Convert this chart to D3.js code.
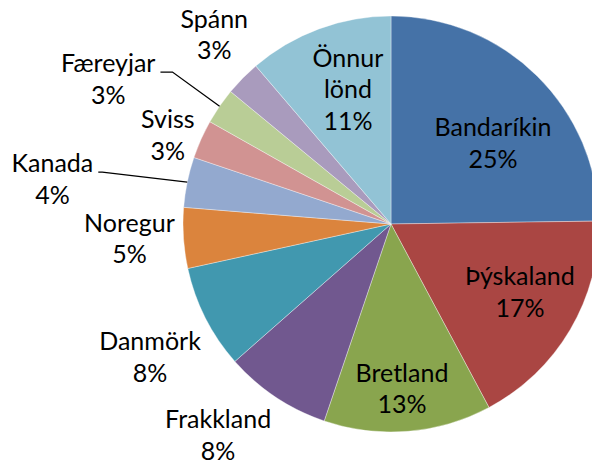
<!DOCTYPE html>
<html>
<head>
<meta charset="utf-8">
<script src="https://cdn.jsdelivr.net/npm/d3@7"></script>
<style>
  html, body { margin: 0; padding: 0; background: #fff; }
  #root { width: 592px; height: 463px; overflow: hidden; }
  text { font-family: Lato, "Open Sans", sans-serif; fill: #000; }
</style>
</head>
<body>
<div id="root"></div>
<script>
// data, clockwise from 12 o'clock
const countries = ['Bandaríkin', 'Þýskaland', 'Bretland', 'Frakkland', 'Danmörk', 'Noregur',
                   'Kanada', 'Sviss', 'Færeyjar', 'Spánn', 'Önnur lönd'];
const shares = [24.75, 17.4, 13.0, 8.3, 8.05, 4.7, 3.9, 3.0, 2.8, 2.75, 11.25];

const colors = ['#4572A7', '#AA4643', '#89A54E', '#71588F', '#4198AF', '#DB843D',
                '#93A9CF', '#D19392', '#B9CD96', '#A99BBD', '#92C3D5'];

// where Excel left each label: [angle in degrees clockwise from top, distance from centre]
const labelPolar = [[51.7, 130], [118, 146], [176.2, 165.6], [219.3, 273], [241, 275.5],
                    [266.7, 262], [277.5, 341.5], [291.6, 240], [297.1, 317.6], [316.9, 258.7],
                    [342.2, 141]];
// labels that get a leader line, and the length of its flat bit
const leaders = { 'Kanada': 4, 'Færeyjar': 12 };
// label split over lines
const labelLines = { 'Önnur lönd': ['Önnur', 'lönd'] };

const root = document.getElementById('root');
const width = 592;
const height = 463;
const cx = 391;
const cy = 224;
const radius = 208;
const fontSize = 25;
const lineH = 31.5;

const svg = d3.select(root)
    .append('svg')
    .attr('width', width)
    .attr('height', height);

const total = d3.sum(shares);
const dataset = countries.map((c, i) => ({ name: c, value: shares[i], i: i }));

const pie = d3.pie()
    .value(d => d.value)
    .sort(null)
    .startAngle(0)
    .endAngle(2 * Math.PI);

const arc = d3.arc()
    .innerRadius(0)
    .outerRadius(radius);

const g = svg.append('g')
    .attr('transform', `translate(${cx},${cy})`);

const arcs = pie(dataset);

g.selectAll('path.slice')
    .data(arcs)
    .enter()
    .append('path')
    .attr('class', 'slice')
    .attr('d', arc)
    .attr('fill', d => colors[d.data.i])
    .attr('stroke', '#fff')
    .attr('stroke-width', 0.6)
    .attr('stroke-opacity', 0.6);

const polar = (deg, r) => {
    const a = deg * Math.PI / 180;
    return [r * Math.sin(a), -r * Math.cos(a)];
};

// Labels
arcs.forEach(d => {
    const name = d.data.name;
    const pct = Math.round(d.data.value / total * 100) + '%';
    const lines = (labelLines[name] || [name]).concat([pct]);
    const [lx, ly] = polar(labelPolar[d.data.i][0], labelPolar[d.data.i][1]);
    const n = lines.length;

    const t = g.append('text')
        .attr('text-anchor', 'middle')
        .attr('font-size', fontSize + 'px');
    lines.forEach((s, k) => {
        t.append('tspan')
            .attr('x', lx)
            .attr('y', ly - (n - 1) * lineH / 2 + 8.5 + k * lineH)
            .text(s);
    });

    if (leaders[name] !== undefined) {
        const first = t.select('tspan').node();
        const right = lx + first.getComputedTextLength() / 2 + 5;
        const yLine = ly - (n - 1) * lineH / 2 + 8.5;
        const mid = (d.startAngle + d.endAngle) / 2 * 180 / Math.PI;
        const [ex, ey] = polar(mid, radius);
        g.append('polyline')
            .attr('points', [[right, yLine], [right + leaders[name], yLine], [ex, ey]].join(' '))
            .attr('fill', 'none')
            .attr('stroke', '#000')
            .attr('stroke-width', 1.3);
    }
});
</script>
</body>
</html>
